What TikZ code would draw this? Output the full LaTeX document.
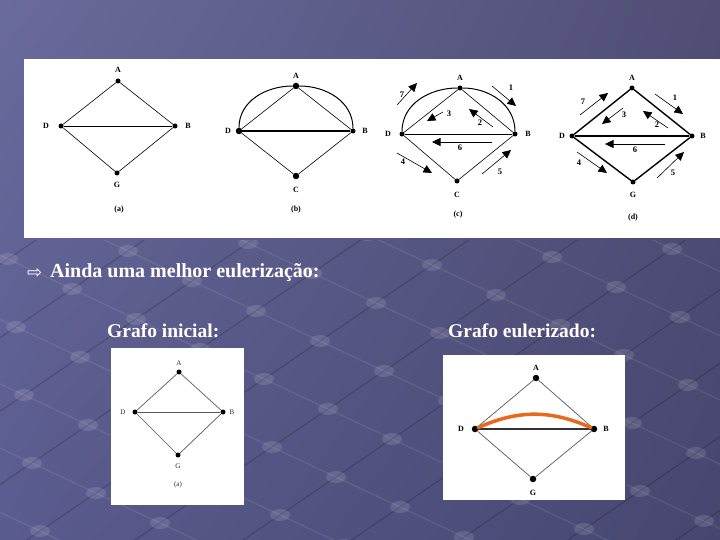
\documentclass[tikz,border=0pt]{standalone}
\usepackage{fontspec}
\setmainfont{Liberation Serif}
\newfontfamily\symfont{DejaVu Sans}
\usepackage{xcolor}
\usetikzlibrary{arrows.meta, shadings}

\definecolor{bgUL}{HTML}{6A6B9D}
\definecolor{bgUR}{HTML}{504E74}
\definecolor{bgLL}{HTML}{5A5B8E}
\definecolor{bgLR}{HTML}{464670}
\definecolor{eulerorange}{HTML}{E8681E}

\begin{document}
\begin{tikzpicture}[x=1pt, y=-1pt,
    vtx/.style={circle, fill=black, inner sep=0pt, minimum size=5pt},
    bigvtx/.style={vtx, minimum size=6.5pt},
    lbl/.style={font=\fontsize{8}{9}\selectfont\bfseries, inner sep=1pt},
    thinlbl/.style={font=\fontsize{7}{8}\selectfont, text=black!85, inner sep=1pt},
    num/.style={font=\fontsize{8.5}{9}\selectfont\bfseries, inner sep=1pt},
    edge/.style={line width=0.6pt},
    heavy/.style={line width=1.4pt},
    grayedge/.style={line width=0.7pt, black!65},
    walk/.style={line width=0.6pt, -{Triangle[length=8.5pt,width=8pt]}},
    panel/.style={fill=white},
    slidetext/.style={text=white, anchor=base west, inner sep=0pt}
]

% slide background
\shade[upper left=bgUL, upper right=bgUR, lower left=bgLL, lower right=bgLR] (0,0) rectangle (720,540);
\begin{scope}
  \clip (0,240) rectangle (720,540);
  \begin{scope}[shift={(32,463)}, x={(56pt,38pt)}, y={(64pt,-30pt)}]
    \foreach \i in {-10,...,10} {
      \draw[white, opacity=0.09, line width=1.2pt] (\i,-12) -- (\i,12);
      \draw[black, opacity=0.2, line width=1pt] (-12,\i) -- (12,\i);
    }
    \foreach \i in {-8,...,8}
      \foreach \j in {-8,...,8}
        \fill[white, opacity=0.12] (\i,\j) ellipse [x radius=10pt, y radius=6pt];
  \end{scope}
\end{scope}

% top panel with the four graphs
\fill[panel] (24,59) rectangle (720,238);

% (a)
\node[vtx] (aA) at (118,81) {};
\node[vtx] (aD) at (61,126) {};
\node[vtx] (aB) at (175,126) {};
\node[vtx] (aG) at (117,173) {};
\node[lbl] (aAl) at (118,70) {A};
\node[lbl] (aDl) at (46,126) {D};
\node[lbl] (aBl) at (188,126) {B};
\node[lbl] (aGl) at (117,185) {G};
\node[lbl] (acap) at (119,210) {(a)};
\draw[edge] (aA) -- (aD);
\draw[edge] (aA) -- (aB);
\draw[edge] (aD) -- (aG);
\draw[edge] (aG) -- (aB);
\draw[edge] (aD) -- (aB);

% (b)
\node[bigvtx] (bA) at (296,86) {};
\node[bigvtx] (bD) at (239,131) {};
\node[vtx] (bB) at (353,131) {};
\node[bigvtx] (bC) at (296,176) {};
\node[lbl] (bAl) at (296,76) {A};
\node[lbl] (bDl) at (228,131) {D};
\node[lbl] (bBl) at (365,131) {B};
\node[lbl] (bCl) at (296,190) {C};
\node[lbl] (bcap) at (296,210) {(b)};
\draw[edge] (bA) -- (bD);
\draw[edge] (bA) -- (bB);
\draw[edge] (bD) -- (bC);
\draw[edge] (bC) -- (bB);
\draw[heavy] (bD) -- (bB);
\draw[line width=1pt] (bD) to[out=90, in=180] (bA);
\draw[line width=1pt] (bA) to[out=0, in=90] (bB);

% (c)
\node[vtx] (cA) at (460,88) {};
\node[vtx] (cD) at (402,134) {};
\node[vtx] (cB) at (515,134) {};
\node[vtx] (cC) at (457,181) {};
\node[lbl] (cAl) at (460,78) {A};
\node[lbl] (cDl) at (388,134) {D};
\node[lbl] (cBl) at (528,134) {B};
\node[lbl] (cCl) at (457,195) {C};
\node[lbl] (ccap) at (458,215) {(c)};
\draw[edge] (cA) -- (cD);
\draw[edge] (cA) -- (cB);
\draw[edge] (cD) -- (cC);
\draw[edge] (cC) -- (cB);
\draw[edge] (cD) -- (cB);
\draw[line width=1pt] (cD) to[out=90, in=180] (cA);
\draw[line width=1pt] (cA) to[out=0, in=90] (cB);
\coordinate (c1s) at (492,86);  \coordinate (c1e) at (516,106);
\coordinate (c2s) at (493,127); \coordinate (c2e) at (469,109);
\coordinate (c3s) at (443,112); \coordinate (c3e) at (427,121);
\coordinate (c4s) at (397,153); \coordinate (c4e) at (432,173);
\coordinate (c5s) at (482,174); \coordinate (c5e) at (511,150);
\coordinate (c6s) at (492,142); \coordinate (c6e) at (432,142);
\coordinate (c7s) at (397,105); \coordinate (c7e) at (417,83);
\draw[walk] (c1s) -- (c1e);
\draw[walk] (c2s) -- (c2e);
\draw[walk] (c3s) -- (c3e);
\draw[walk] (c4s) -- (c4e);
\draw[walk] (c5s) -- (c5e);
\draw[walk] (c6s) -- (c6e);
\draw[walk] (c7s) -- (c7e);
\node[num] (c1n) at (511,88) {1};
\node[num] (c2n) at (480,123) {2};
\node[num] (c3n) at (449,114) {3};
\node[num] (c4n) at (403,162) {4};
\node[num] (c5n) at (500,172) {5};
\node[num] (c6n) at (460,148) {6};
\node[num] (c7n) at (402,95) {7};

% (d)
\node[vtx] (dA) at (632,88) {};
\node[vtx] (dD) at (572,136) {};
\node[vtx] (dB) at (692,136) {};
\node[vtx] (dG) at (633,182) {};
\node[lbl] (dAl) at (632,78) {A};
\node[lbl] (dDl) at (562,136) {D};
\node[lbl] (dBl) at (703,136) {B};
\node[lbl] (dGl) at (633,195) {G};
\node[lbl] (dcap) at (633,218) {(d)};
\draw[heavy] (dA) -- (dD);
\draw[heavy] (dA) -- (dB);
\draw[heavy] (dD) -- (dG);
\draw[heavy] (dG) -- (dB);
\draw[heavy] (dD) -- (dB);
\coordinate (d1s) at (655,94);  \coordinate (d1e) at (683,114);
\coordinate (d2s) at (668,128); \coordinate (d2e) at (643,111);
\coordinate (d3s) at (623,108); \coordinate (d3e) at (602,124);
\coordinate (d4s) at (577,152); \coordinate (d4e) at (607,173);
\coordinate (d5s) at (657,178); \coordinate (d5e) at (684,152);
\coordinate (d6s) at (665,144); \coordinate (d6e) at (605,144);
\coordinate (d7s) at (580,115); \coordinate (d7e) at (608,93);
\draw[walk] (d1s) -- (d1e);
\draw[walk] (d2s) -- (d2e);
\draw[walk] (d3s) -- (d3e);
\draw[walk] (d4s) -- (d4e);
\draw[walk] (d5s) -- (d5e);
\draw[walk] (d6s) -- (d6e);
\draw[walk] (d7s) -- (d7e);
\node[num] (d1n) at (675,98) {1};
\node[num] (d2n) at (657,125) {2};
\node[num] (d3n) at (624,115) {3};
\node[num] (d4n) at (579,163) {4};
\node[num] (d5n) at (673,173) {5};
\node[num] (d6n) at (635,150) {6};
\node[num] (d7n) at (583,102) {7};

% slide text
\node[slidetext, font=\symfont\fontsize{18}{18}\selectfont] (bullet) at (27,278) {⇨};
\node[slidetext, font=\fontsize{20}{22}\selectfont\bfseries] (intro) at (50,277) {Ainda uma melhor eulerização:};
\node[slidetext, font=\fontsize{19.5}{21}\selectfont\bfseries] (initial) at (107,337) {Grafo inicial:};
\node[slidetext, font=\fontsize{19.5}{21}\selectfont\bfseries] (euler) at (448,337) {Grafo eulerizado:};

% initial graph
\fill[panel] (111,348) rectangle (244,505);
\node[vtx] (iA) at (179,372) {};
\node[vtx] (iD) at (135,412) {};
\node[vtx] (iB) at (223,412) {};
\node[vtx] (iG) at (178,455) {};
\node[thinlbl] (iAl) at (179,363) {A};
\node[thinlbl] (iDl) at (123,412) {D};
\node[thinlbl] (iBl) at (232,412) {B};
\node[thinlbl] (iGl) at (178,466) {G};
\node[thinlbl] (icap) at (178,485) {(a)};
\draw[grayedge] (iA) -- (iD);
\draw[grayedge] (iA) -- (iB);
\draw[grayedge] (iD) -- (iG);
\draw[grayedge] (iG) -- (iB);
\draw[grayedge] (iD) -- (iB);

% eulerized graph
\fill[panel] (443,355) rectangle (625,500);
\node[bigvtx] (eA) at (536,378) {};
\node[bigvtx] (eD) at (475,429) {};
\node[bigvtx] (eB) at (594,429) {};
\node[bigvtx] (eG) at (533,479) {};
\node[lbl] (eAl) at (536,368) {A};
\node[lbl] (eDl) at (461,429) {D};
\node[lbl] (eBl) at (606,429) {B};
\node[lbl] (eGl) at (533,493) {G};
\draw[grayedge] (eA) -- (eD);
\draw[grayedge] (eA) -- (eB);
\draw[grayedge] (eD) -- (eG);
\draw[grayedge] (eG) -- (eB);
\draw[line width=1.6pt, black!80] (eD) -- (eB);
\draw[line width=3.5pt, eulerorange, line cap=round] (eD) to[bend left=24] (eB);

\end{tikzpicture}
\end{document}
